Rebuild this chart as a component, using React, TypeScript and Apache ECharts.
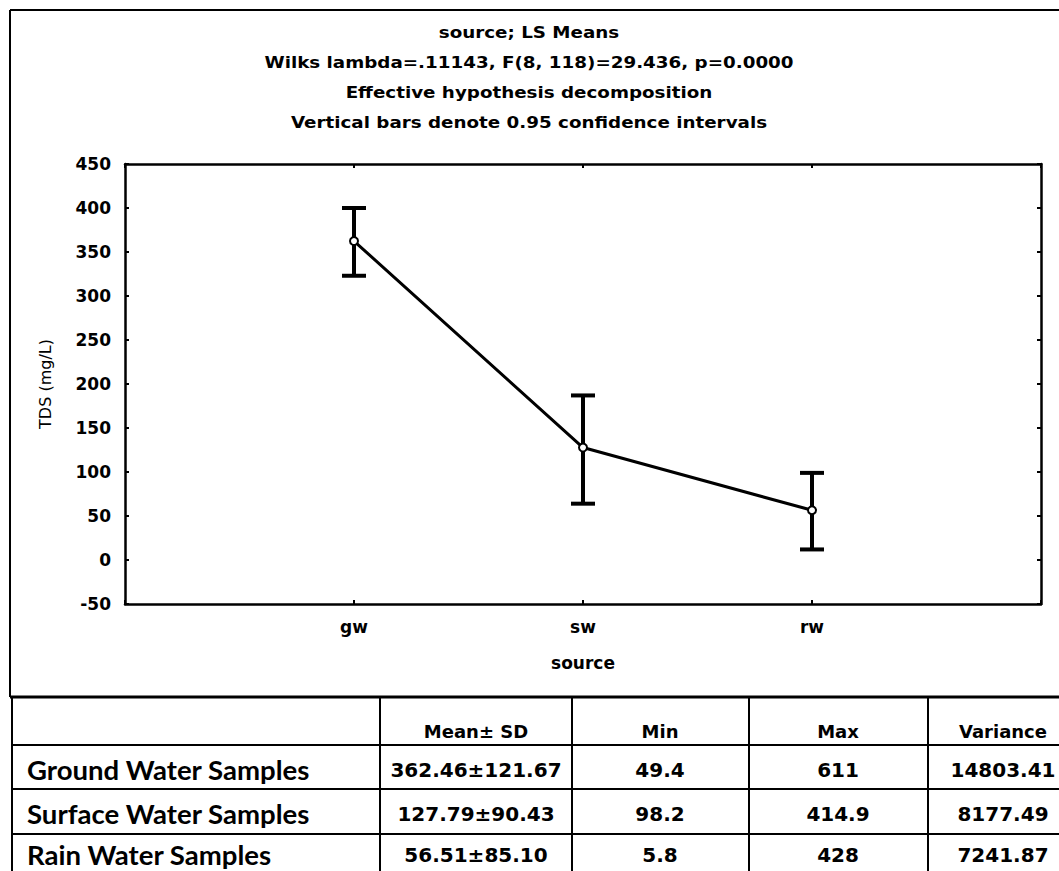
import React, { useEffect, useRef } from "react";
import * as echarts from "echarts";

const categories = ["", "gw", "sw", "rw", ""];
const sourceIndex = [1, 2, 3];
const means = [362.46, 127.79, 56.51];
const ciLow = [323, 64, 12];
const ciHigh = [400, 187, 99];
const yTicks = { min: -50, max: 450, interval: 50 };

const titleLines = [
  "source; LS Means",
  "Wilks lambda=.11143, F(8, 118)=29.436, p=0.0000",
  "Effective hypothesis decomposition",
  "Vertical bars denote 0.95 confidence intervals",
];

const tableHeaders = ["", "Mean± SD", "Min", "Max", "Variance"];
const rowLabels = ["Ground Water Samples", "Surface Water Samples", "Rain Water Samples"];
const meanSD = ["362.46±121.67", "127.79±90.43", "56.51±85.10"];
const mins = ["49.4", "98.2", "5.8"];
const maxs = ["611", "414.9", "428"];
const variances = ["14803.41", "8177.49", "7241.87"];

export default function App() {
  const ref = useRef<HTMLDivElement>(null);
  useEffect(() => {
    if (!ref.current) return;
    const chart = echarts.init(ref.current, null, { renderer: "svg" });

    const graphics: any[] = [];
    // outer border of chart panel
    graphics.push({ type: "line", shape: { x1: 10, y1: 10, x2: 1059, y2: 10 }, style: { stroke: "#000", lineWidth: 2 } });
    graphics.push({ type: "line", shape: { x1: 10, y1: 10, x2: 10, y2: 697 }, style: { stroke: "#000", lineWidth: 2 } });
    // titles
    const titleY = [33, 63, 93, 123];
    titleLines.forEach((t, i) => {
      graphics.push({
        type: "text",
        x: 529,
        y: titleY[i],
        scaleX: 1.22,
        style: { text: t, fontFamily: "DejaVu Sans", fontWeight: "bold", fontSize: 15, fill: "#000", align: "center", verticalAlign: "middle" },
      });
    });

    // table
    const colX = [12, 380, 572, 749, 928];
    const colCenters = [0, 476, 660, 838, 1003];
    const rowLines = [745, 789, 834];
    graphics.push({ type: "line", shape: { x1: 10, y1: 697, x2: 1059, y2: 697 }, style: { stroke: "#000", lineWidth: 3 } });
    rowLines.forEach((y) => {
      graphics.push({ type: "line", shape: { x1: 12, y1: y, x2: 1059, y2: y }, style: { stroke: "#000", lineWidth: 2 } });
    });
    colX.forEach((x) => {
      graphics.push({ type: "line", shape: { x1: x, y1: 697, x2: x, y2: 871 }, style: { stroke: "#000", lineWidth: 2 } });
    });
    tableHeaders.forEach((h, c) => {
      if (!h) return;
      graphics.push({
        type: "text",
        x: colCenters[c],
        y: 731,
        style: { text: h, fontFamily: "DejaVu Sans", fontWeight: "bold", fontSize: 18, fill: "#000", align: "center", verticalAlign: "middle" },
      });
    });
    const rowY = [770, 814, 855];
    const cols = [meanSD, mins, maxs, variances];
    rowLabels.forEach((lab, r) => {
      graphics.push({
        type: "text",
        x: 27,
        y: rowY[r],
        scaleX: 1.06,
        style: { text: lab, fontFamily: "Lato", fontWeight: "bold", fontSize: 26, fill: "#000", align: "left", verticalAlign: "middle" },
      });
      cols.forEach((col, c) => {
        graphics.push({
          type: "text",
          x: colCenters[c + 1],
          y: rowY[r],
          style: { text: col[r], fontFamily: "DejaVu Sans", fontWeight: "bold", fontSize: 20, fill: "#000", align: "center", verticalAlign: "middle" },
        });
      });
    });

    const lineData = sourceIndex.map((x, i) => [x, means[i]]);
    const errData = sourceIndex.map((x, i) => [x, ciLow[i], ciHigh[i]]);

    const axisLine = { show: true, onZero: false, lineStyle: { color: "#000", width: 2.5 } };
    const tick = { show: true, inside: true, length: 4, lineStyle: { color: "#000", width: 2 } };

    chart.setOption({
      animation: false,
      backgroundColor: "#fff",
      grid: { left: 125, right: 18, top: 164, bottom: 267, containLabel: false },
      xAxis: [
        {
          type: "category",
          data: categories,
          boundaryGap: false,
          position: "bottom",
          axisLine,
          axisTick: tick,
          axisLabel: { color: "#000", fontFamily: "DejaVu Sans", fontWeight: "bold", fontSize: 17, margin: 14 },
          splitLine: { show: false },
          name: "source",
          nameLocation: "middle",
          nameGap: 50,
          nameTextStyle: { color: "#000", fontFamily: "DejaVu Sans", fontWeight: "bold", fontSize: 17 },
        },
        {
          type: "category",
          data: categories,
          boundaryGap: false,
          position: "top",
          axisLine,
          axisTick: tick,
          axisLabel: { show: false },
          splitLine: { show: false },
        },
      ],
      yAxis: [
        {
          type: "value",
          min: yTicks.min,
          max: yTicks.max,
          interval: yTicks.interval,
          position: "left",
          axisLine,
          axisTick: tick,
          axisLabel: { color: "#000", fontFamily: "DejaVu Sans", fontWeight: "bold", fontSize: 17, margin: 14 },
          splitLine: { show: false },
          name: "TDS (mg/L)",
          nameLocation: "middle",
          nameGap: 72,
          nameTextStyle: { color: "#000", fontFamily: "DejaVu Sans", fontSize: 16 },
        },
        {
          type: "value",
          min: yTicks.min,
          max: yTicks.max,
          interval: yTicks.interval,
          position: "right",
          axisLine,
          axisTick: tick,
          axisLabel: { show: false },
          splitLine: { show: false },
        },
      ],
      series: [
        {
          type: "line",
          xAxisIndex: 0,
          yAxisIndex: 0,
          data: lineData,
          symbol: "emptyCircle",
          symbolSize: 8,
          lineStyle: { color: "#000", width: 3 },
          itemStyle: { color: "#000", borderColor: "#000", borderWidth: 2 },
          z: 3,
        },
        {
          type: "custom",
          xAxisIndex: 0,
          yAxisIndex: 0,
          data: errData,
          encode: { x: 0, y: [1, 2] },
          z: 2,
          renderItem: (params: any, api: any) => {
            const x = api.value(0);
            const lo = api.coord([x, api.value(1)]);
            const hi = api.coord([x, api.value(2)]);
            const hw = 12;
            const st = { stroke: "#000", lineWidth: 4 };
            return {
              type: "group",
              children: [
                { type: "line", shape: { x1: lo[0], y1: lo[1], x2: hi[0], y2: hi[1] }, style: st },
                { type: "line", shape: { x1: hi[0] - hw, y1: hi[1], x2: hi[0] + hw, y2: hi[1] }, style: st },
                { type: "line", shape: { x1: lo[0] - hw, y1: lo[1], x2: lo[0] + hw, y2: lo[1] }, style: st },
              ],
            };
          },
        },
      ],
      graphic: { elements: graphics },
    });
    return () => chart.dispose();
  }, []);
  return (
    <div
      ref={ref}
      style={{ position: "absolute", left: 0, top: 0, width: 1059, height: 871, background: "#fff" }}
    />
  );
}
